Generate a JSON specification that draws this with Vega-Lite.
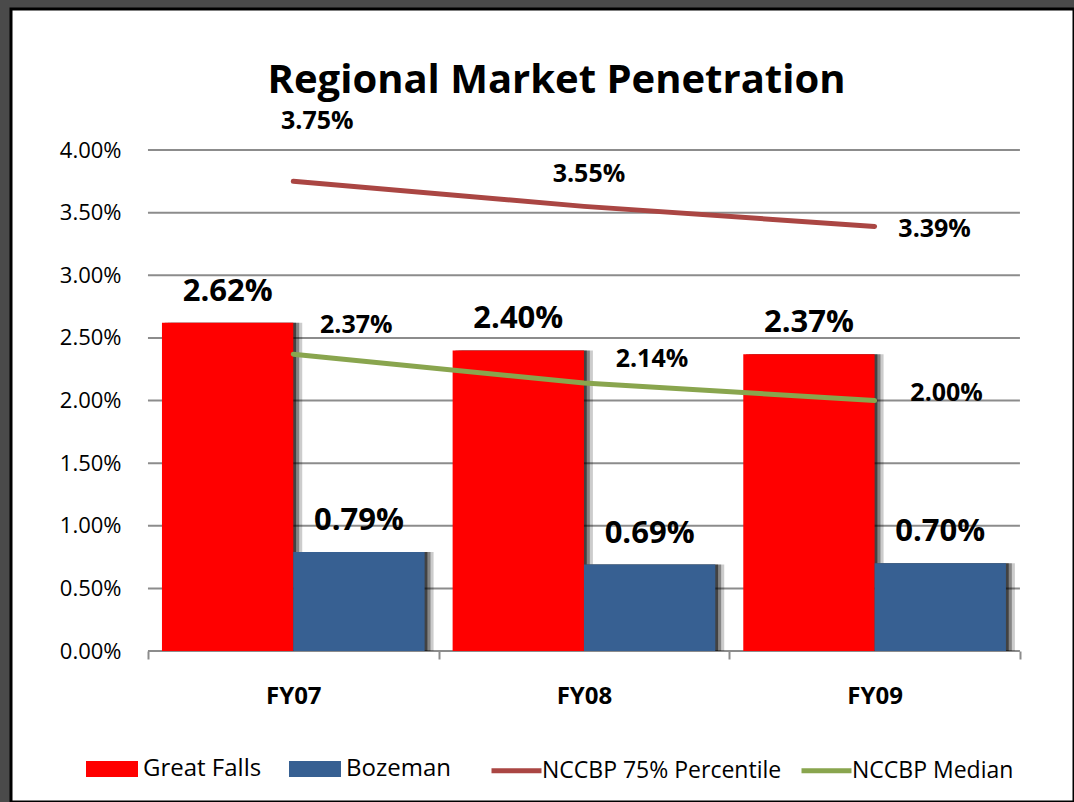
{
  "$schema": "https://vega.github.io/schema/vega-lite/v6.json",
  "width": 1063,
  "height": 793,
  "autosize": {"type": "none"},
  "padding": {"left": 11, "top": 9, "right": 0, "bottom": 0},
  "background": "#4a4a4a",
  "config": {
    "view": {"fill": "white", "stroke": "black", "strokeWidth": 3},
    "font": "Open Sans"
  },
  "title": {
    "text": "Regional Market Penetration",
    "font": "Open Sans",
    "fontSize": 40,
    "fontWeight": "bold",
    "color": "black",
    "anchor": "middle",
    "frame": "group",
    "dx": 14,
    "offset": -92
  },
  "datasets": {
    "main": [
      {"year": "FY07", "series": "Great Falls", "kind": "bar", "value": 0.0262},
      {"year": "FY07", "series": "Bozeman", "kind": "bar", "value": 0.0079},
      {"year": "FY07", "series": "NCCBP 75% Percentile", "kind": "line", "value": 0.0375},
      {"year": "FY07", "series": "NCCBP Median", "kind": "line", "value": 0.0237},
      {"year": "FY08", "series": "Great Falls", "kind": "bar", "value": 0.0240},
      {"year": "FY08", "series": "Bozeman", "kind": "bar", "value": 0.0069},
      {"year": "FY08", "series": "NCCBP 75% Percentile", "kind": "line", "value": 0.0355},
      {"year": "FY08", "series": "NCCBP Median", "kind": "line", "value": 0.0214},
      {"year": "FY09", "series": "Great Falls", "kind": "bar", "value": 0.0237},
      {"year": "FY09", "series": "Bozeman", "kind": "bar", "value": 0.0070},
      {"year": "FY09", "series": "NCCBP 75% Percentile", "kind": "line", "value": 0.0339},
      {"year": "FY09", "series": "NCCBP Median", "kind": "line", "value": 0.0200}
    ],
    "grid": [
      {"value": 0}, {"value": 0.005}, {"value": 0.01}, {"value": 0.015}, {"value": 0.02},
      {"value": 0.025}, {"value": 0.03}, {"value": 0.035}, {"value": 0.04}
    ]
  },
  "data": {"name": "main"},
  "resolve": {"scale": {"xOffset": "independent"}},
  "encoding": {
    "x": {
      "field": "year",
      "type": "nominal",
      "scale": {"domain": ["FY07", "FY08", "FY09"], "paddingInner": 0, "paddingOuter": 0.3286, "align": 0.717},
      "axis": {
        "orient": "bottom",
        "offset": -151,
        "domain": false,
        "ticks": true,
        "tickBand": "extent",
        "tickSize": 8,
        "tickWidth": 2,
        "tickColor": "#8c8c8c",
        "labelFont": "Open Sans",
        "labelFontSize": 24,
        "labelFontWeight": "bold",
        "labelColor": "black",
        "labelPadding": 25,
        "labelAngle": 0,
        "title": null
      }
    },
    "y": {
      "field": "value",
      "type": "quantitative",
      "scale": {"domain": [-0.012055, 0.051258], "nice": false, "zero": false},
      "axis": {
        "orient": "left",
        "offset": -137,
        "values": [0, 0.005, 0.01, 0.015, 0.02, 0.025, 0.03, 0.035, 0.04],
        "format": ".2%",
        "domain": false,
        "ticks": false,
        "grid": false,
        "labelFont": "Open Sans",
        "labelFontSize": 22,
        "labelColor": "black",
        "labelPadding": 27,
        "title": null
      }
    }
  },
  "layer": [
    {
      "data": {"name": "grid"},
      "mark": {"type": "rule", "color": "#8c8c8c", "strokeWidth": 2},
      "encoding": {
        "x": {"datum": "FY07", "type": "nominal", "bandPosition": 0},
        "x2": {"datum": "FY09", "bandPosition": 1}
      }
    },
    {
      "transform": [{"filter": "datum.kind === 'bar'"}],
      "mark": {"type": "bar", "fill": "black", "opacity": 0.2},
      "encoding": {
        "xOffset": {"field": "series", "type": "nominal", "scale": {"domain": ["Great Falls", "Bozeman"], "paddingInner": 0, "paddingOuter": 0.1066, "align": 0.82}},
        "y2": {"datum": 0}
      }
    },
    {
      "transform": [{"filter": "datum.kind === 'bar'"}],
      "mark": {"type": "bar", "fill": "black", "opacity": 0.35},
      "encoding": {
        "xOffset": {"field": "series", "type": "nominal", "scale": {"domain": ["Great Falls", "Bozeman"], "paddingInner": 0, "paddingOuter": 0.1066, "align": 0.71}},
        "y2": {"datum": 0}
      }
    },
    {
      "transform": [{"filter": "datum.kind === 'bar'"}],
      "mark": {"type": "bar", "fill": "black", "opacity": 0.5},
      "encoding": {
        "xOffset": {"field": "series", "type": "nominal", "scale": {"domain": ["Great Falls", "Bozeman"], "paddingInner": 0, "paddingOuter": 0.1066, "align": 0.6}},
        "y2": {"datum": 0}
      }
    },
    {
      "transform": [{"filter": "datum.kind === 'bar'"}],
      "mark": {"type": "bar"},
      "encoding": {
        "xOffset": {"field": "series", "type": "nominal", "scale": {"domain": ["Great Falls", "Bozeman"], "paddingInner": 0, "paddingOuter": 0.1066, "align": 0.5}},
        "y2": {"datum": 0},
        "fill": {
          "field": "series",
          "type": "nominal",
          "scale": {"domain": ["Great Falls", "Bozeman"], "range": ["#ff0000", "#376092"]},
          "legend": {
            "orient": "none",
            "legendX": 75,
            "legendY": 734,
            "direction": "horizontal",
            "title": null,
            "padding": 0,
            "symbolType": "M-1,-0.3077H1V0.3077H-1Z",
            "symbolSize": 2704,
            "symbolStrokeWidth": 0,
            "labelFont": "Open Sans",
            "labelFontSize": 24,
            "labelColor": "black",
            "labelOffset": 5,
            "labelLimit": 400,
            "columnPadding": 27
          }
        }
      }
    },
    {
      "transform": [{"filter": "datum.kind === 'bar'"}],
      "mark": {"type": "text", "font": "Open Sans", "fontSize": 31, "fontWeight": "bold", "color": "black", "baseline": "alphabetic", "align": "center", "dy": -22},
      "encoding": {
        "xOffset": {"field": "series", "type": "nominal", "scale": {"type": "band", "domain": ["Great Falls", "Bozeman"], "paddingInner": 0, "paddingOuter": 0.1066, "align": 0.5}},
        "text": {"field": "value", "type": "quantitative", "format": ".2%"}
      }
    },
    {
      "transform": [{"filter": "datum.kind === 'line'"}],
      "mark": {"type": "line", "strokeWidth": 5, "strokeCap": "round", "strokeJoin": "round"},
      "encoding": {
        "stroke": {
          "field": "series",
          "type": "nominal",
          "scale": {"domain": ["NCCBP 75% Percentile", "NCCBP Median"], "range": ["#aa4643", "#89a54e"]},
          "legend": {
            "orient": "none",
            "legendX": 478,
            "legendY": 734,
            "direction": "horizontal",
            "title": null,
            "padding": 0,
            "symbolType": "stroke",
            "symbolSize": 2500,
            "symbolStrokeWidth": 5,
            "labelFont": "Open Sans",
            "labelFontSize": 23,
            "labelColor": "black",
            "labelOffset": -2,
            "labelLimit": 400,
            "columnPadding": 9
          }
        }
      }
    },
    {
      "transform": [{"filter": "datum.series === 'NCCBP 75% Percentile'"}],
      "mark": {
        "type": "text", "font": "Open Sans", "fontSize": 25, "fontWeight": "bold", "color": "black",
        "baseline": "alphabetic", "align": "center",
        "dx": {"expr": "datum.year === 'FY07' ? 24 : datum.year === 'FY08' ? 5 : 60"},
        "dy": {"expr": "datum.year === 'FY07' ? -52 : datum.year === 'FY08' ? -24 : 11"}
      },
      "encoding": {
        "text": {"field": "value", "type": "quantitative", "format": ".2%"}
      }
    },
    {
      "transform": [{"filter": "datum.series === 'NCCBP Median'"}],
      "mark": {
        "type": "text", "font": "Open Sans", "fontSize": 25, "fontWeight": "bold", "color": "black",
        "baseline": "alphabetic", "align": "center",
        "dx": {"expr": "datum.year === 'FY07' ? 63 : datum.year === 'FY08' ? 68 : 72"},
        "dy": {"expr": "datum.year === 'FY07' ? -21 : datum.year === 'FY08' ? -16 : 0"}
      },
      "encoding": {
        "text": {"field": "value", "type": "quantitative", "format": ".2%"}
      }
    }
  ]
}
